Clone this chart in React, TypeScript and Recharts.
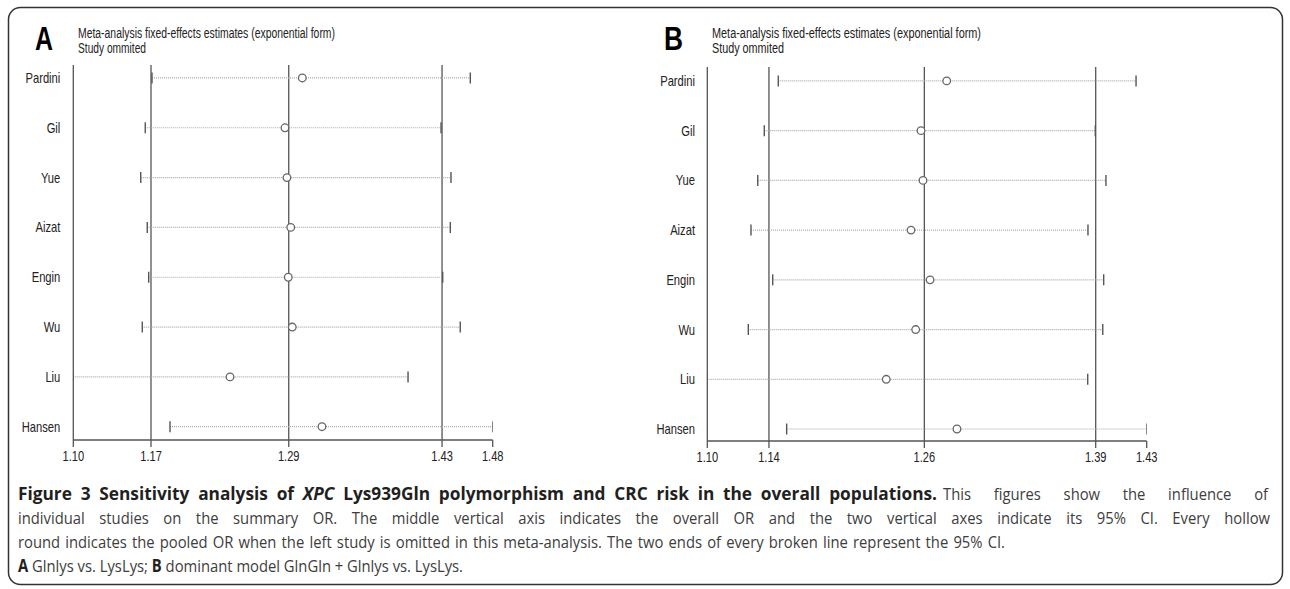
import React, { useLayoutEffect, useRef, useState } from "react";
import {
  ScatterChart,
  Scatter,
  XAxis,
  YAxis,
  ReferenceLine,
} from "recharts";

const studies = ["Pardini", "Gil", "Yue", "Aizat", "Engin", "Wu", "Liu", "Hansen"];
const rowTicks = [1, 2, 3, 4, 5, 6, 7, 8];

// panel A: Glnlys vs. LysLys
const lowA = [1.1713, 1.1652, 1.1611, 1.167, 1.1683, 1.1625, 1.1, 1.1876];
const estA = [1.3075, 1.2918, 1.2936, 1.297, 1.2948, 1.2984, 1.242, 1.3253];
const highA = [1.4597, 1.4332, 1.4422, 1.4416, 1.4347, 1.4506, 1.4033, 1.48];
const refA = [1.1704, 1.2952, 1.4341];
const ticksA = [1.1, 1.1704, 1.2952, 1.4341, 1.48];
const tickLabelsA = ["1.10", "1.17", "1.29", "1.43", "1.48"];

// panel B: dominant model
const lowB = [1.1533, 1.1428, 1.1379, 1.1328, 1.1491, 1.1308, 1.1, 1.1596];
const estB = [1.2798, 1.2605, 1.262, 1.253, 1.2673, 1.2565, 1.2344, 1.2875];
const highB = [1.422, 1.3914, 1.3994, 1.3859, 1.3977, 1.397, 1.3857, 1.43];
const refB = [1.1463, 1.263, 1.3917];
const ticksB = [1.1, 1.1463, 1.263, 1.3917, 1.43];
const tickLabelsB = ["1.10", "1.14", "1.26", "1.39", "1.43"];

const AXIS = "#555";
const FONT = "'Liberation Sans', Arial, sans-serif";

const CapShape = (props: any) => (
  <line x1={props.cx} x2={props.cx} y1={props.cy - 5.5} y2={props.cy + 5.5} stroke="#555" strokeWidth={1.4} />
);

const CircleShape = (props: any) => (
  <circle cx={props.cx} cy={props.cy} r={3.8} fill="#fff" stroke="#666" strokeWidth={1.3} />
);

const Panel = (p: any) => {
  const rows = studies.map((name, i) => ({
    name,
    y: studies.length - i,
    low: p.low[i],
    est: p.est[i],
    high: p.high[i],
  }));
  const caps = rows.flatMap((r) => [
    { x: r.low, y: r.y },
    { x: r.high, y: r.y },
  ]);
  const points = rows.map((r) => ({ x: r.est, y: r.y }));

  const xTick = (t: any) => (
    <text
      transform={`translate(${t.x},${t.y + 12}) scale(0.74,1)`}
      textAnchor="middle"
      fontSize={15}
      fontFamily={FONT}
      fill="#222"
    >
      {p.tickLabels[p.ticks.indexOf(t.payload.value)]}
    </text>
  );

  const yTick = (t: any) => (
    <text
      transform={`translate(${t.x},${t.y + 5}) scale(0.8,1)`}
      textAnchor="end"
      fontSize={14}
      fontFamily={FONT}
      fill="#222"
    >
      {studies[studies.length - t.payload.value]}
    </text>
  );

  return (
    <div style={{ position: "absolute", left: p.left, top: 0 }}>
      <ScatterChart
        width={p.width}
        height={p.height}
        margin={{ top: p.plotTop, right: p.plotRight, left: 0, bottom: 0 }}
      >
        <XAxis
          type="number"
          dataKey="x"
          domain={p.domain}
          ticks={p.ticks}
          interval={0}
          allowDataOverflow
          height={40}
          tickSize={7}
          tickMargin={2}
          stroke={AXIS}
          strokeWidth={1.3}
          tick={xTick}
        />
        <YAxis
          type="number"
          dataKey="y"
          domain={p.yDomain}
          ticks={rowTicks}
          interval={0}
          allowDataOverflow
          width={p.yWidth}
          tickLine={false}
          tickSize={0}
          tickMargin={p.labelGap}
          stroke={AXIS}
          strokeWidth={1.3}
          tick={yTick}
        />
        {p.refs.map((v: number) => (
          <ReferenceLine key={v} x={v} stroke={AXIS} strokeWidth={1.3} />
        ))}
        {rows.map((r) => (
          <ReferenceLine
            key={r.name}
            segment={[
              { x: r.low, y: r.y },
              { x: r.high, y: r.y },
            ]}
            stroke="#aaa"
            strokeWidth={1.2}
            strokeDasharray="1 1"
          />
        ))}
        <Scatter data={caps} shape={CapShape} isAnimationActive={false} />
        <Scatter data={points} shape={CircleShape} isAnimationActive={false} />
      </ScatterChart>
    </div>
  );
};

const CAP_FONT = "'Open Sans', sans-serif";
const DARK = "#231f20";
const GREY = "#3d3d3d";

// caption text: glyphs condensed by sx, word gaps widened to fill w (justified); w=0 keeps natural width
const Justified = ({ x, y, w = 0, sx = 0.87, size = 17, bold = false, children }: any) => {
  const ref = useRef<SVGTextElement>(null);
  const [ws, setWs] = useState(0);
  useLayoutEffect(() => {
    const el = ref.current;
    if (!el || !w) return;
    const natural = el.getComputedTextLength();
    const spaces = (el.textContent || "").split(" ").length - 1;
    if (spaces > 0) setWs((w / sx - natural) / spaces);
  }, [w, sx]);
  return (
    <text
      ref={ref}
      transform={`scale(${sx},1)`}
      x={x / sx}
      y={y}
      fontFamily={CAP_FONT}
      fontSize={size}
      fontWeight={bold ? "bold" : "normal"}
      fill={bold ? DARK : GREY}
      style={{ wordSpacing: ws }}
    >
      {children}
    </text>
  );
};

export default function App() {
  return (
    <div
      style={{
        position: "absolute",
        left: 0,
        top: 0,
        width: 1290,
        height: 589,
        background: "#fff",
        overflow: "hidden",
      }}
    >
      <svg width={1290} height={589} style={{ position: "absolute", left: 0, top: 0 }}>
        <rect x={8.5} y={7.5} width={1274} height={577} rx={12} fill="none" stroke="#333" strokeWidth={1.5} />

        <text x={35} y={50} fontSize={34} fontWeight="bold" fontFamily={FONT} textLength={18} lengthAdjust="spacingAndGlyphs" fill="#000">A</text>
        <text x={78} y={38} fontSize={14} fontFamily={FONT} textLength={257} lengthAdjust="spacingAndGlyphs" fill="#222">
          Meta-analysis fixed-effects estimates (exponential form)
        </text>
        <text x={78} y={53} fontSize={14} fontFamily={FONT} textLength={68} lengthAdjust="spacingAndGlyphs" fill="#222">
          Study ommited
        </text>

        <text x={664} y={50} fontSize={34} fontWeight="bold" fontFamily={FONT} textLength={19} lengthAdjust="spacingAndGlyphs" fill="#000">B</text>
        <text x={712} y={38} fontSize={14} fontFamily={FONT} textLength={269} lengthAdjust="spacingAndGlyphs" fill="#222">
          Meta-analysis fixed-effects estimates (exponential form)
        </text>
        <text x={712} y={53} fontSize={14} fontFamily={FONT} textLength={72} lengthAdjust="spacingAndGlyphs" fill="#222">
          Study ommited
        </text>

        <Justified x={18} y={500} w={919} sx={0.96} size={18} bold>
          Figure 3 Sensitivity analysis of <tspan fontStyle="italic">XPC</tspan> Lys939Gln polymorphism and CRC risk in the overall populations.
        </Justified>
        <Justified x={943} y={500} w={325}>
          This figures show the influence of
        </Justified>
        <Justified x={18} y={524} w={1252}>
          individual studies on the summary OR. The middle vertical axis indicates the overall OR and the two vertical axes indicate its 95% CI. Every hollow
        </Justified>
        <Justified x={18} y={548} w={987}>
          round indicates the pooled OR when the left study is omitted in this meta-analysis. The two ends of every broken line represent the 95% CI.
        </Justified>
        <Justified x={18} y={572}>
          <tspan fontWeight="bold" fill={DARK}>A</tspan> Glnlys vs. LysLys; <tspan fontWeight="bold" fill={DARK}>B</tspan> dominant model GlnGln + Glnlys vs. LysLys.
        </Justified>
      </svg>

      <Panel
        left={0}
        width={520}
        height={480}
        plotTop={65}
        plotRight={27.3}
        yWidth={73.3}
        labelGap={13}
        domain={[1.1, 1.48]}
        yDomain={[0.733, 8.26]}
        ticks={ticksA}
        tickLabels={tickLabelsA}
        refs={refA}
        low={lowA}
        est={estA}
        high={highA}
      />
      <Panel
        left={650}
        width={520}
        height={481}
        plotTop={67}
        plotRight={23.3}
        yWidth={57.3}
        labelGap={12.3}
        domain={[1.1, 1.43]}
        yDomain={[0.759, 8.28]}
        ticks={ticksB}
        tickLabels={tickLabelsB}
        refs={refB}
        low={lowB}
        est={estB}
        high={highB}
      />
    </div>
  );
}
